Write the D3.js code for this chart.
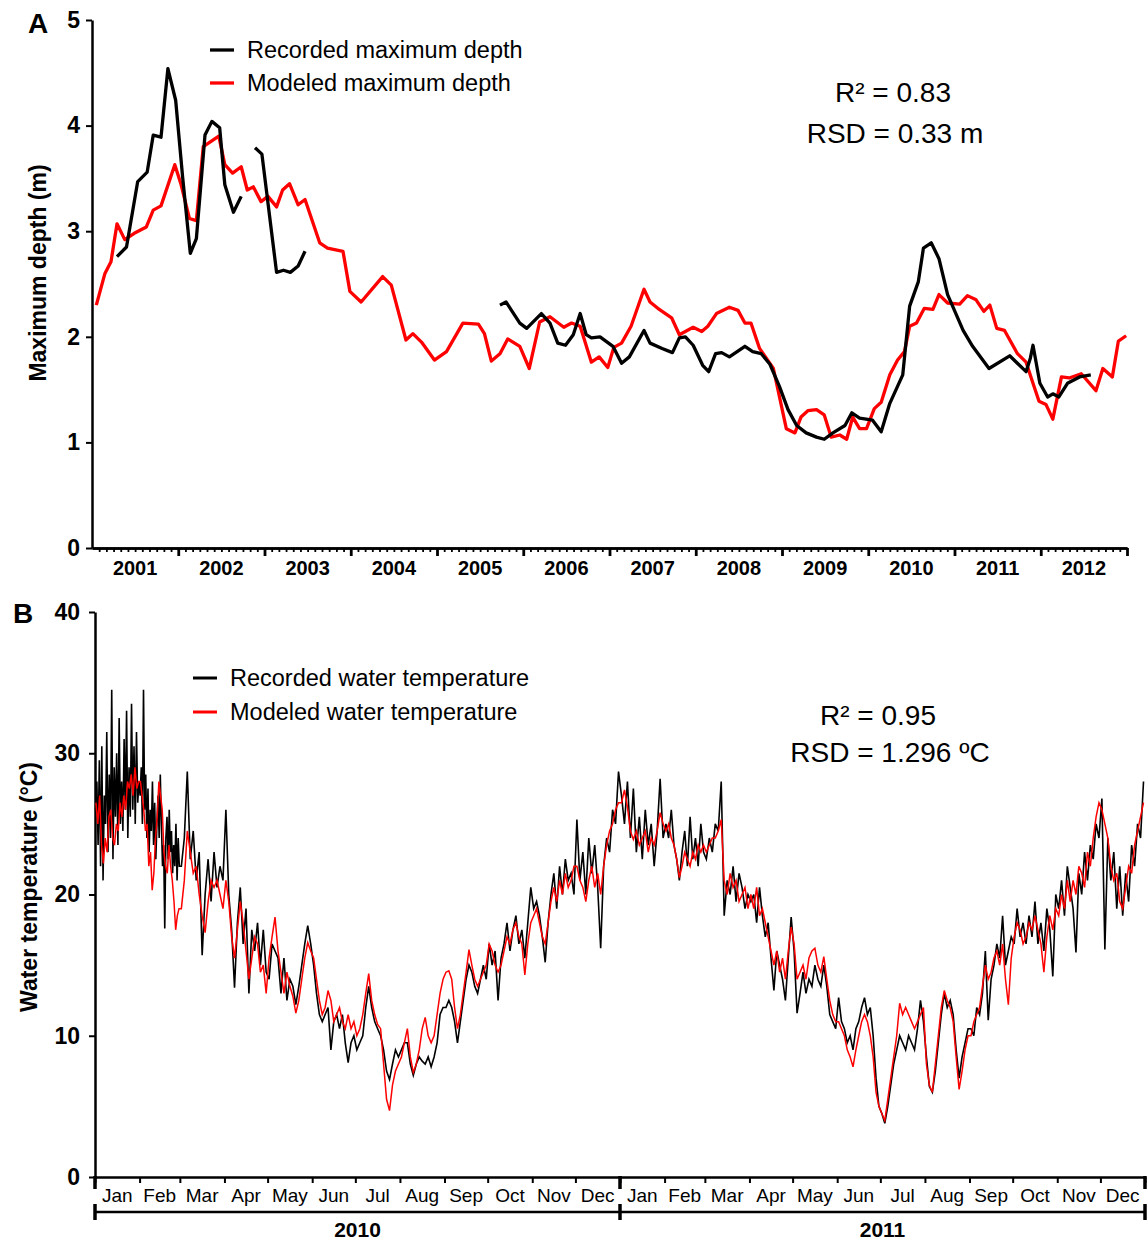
<!DOCTYPE html>
<html><head><meta charset="utf-8">
<script src="https://cdn.jsdelivr.net/npm/d3@7"></script>
<style>body{margin:0;background:#fff} svg{display:block}</style>
</head><body><svg id="c" width="1148" height="1240"></svg>
<script>
// ---------------- Panel A data (decimal year, metres) ----------------
const depthTicks = [0, 1, 2, 3, 4, 5];
const depthYears = [2001,2002,2003,2004,2005,2006,2007,2008,2009,2010,2011,2012];
const modeledDepth = [
 [2001.05,2.30],[2001.15,2.60],[2001.22,2.71],[2001.29,3.07],[2001.38,2.92],[2001.49,2.98],[2001.63,3.04],
 [2001.71,3.20],[2001.80,3.24],[2001.96,3.63],[2002.03,3.45],[2002.13,3.12],[2002.21,3.10],[2002.29,3.80],
 [2002.38,3.85],[2002.47,3.90],[2002.54,3.63],[2002.63,3.55],[2002.73,3.61],[2002.80,3.39],[2002.87,3.42],
 [2002.96,3.28],[2003.04,3.33],[2003.14,3.23],[2003.21,3.39],[2003.29,3.45],[2003.39,3.25],[2003.47,3.30],
 [2003.64,2.89],[2003.73,2.84],[2003.91,2.81],[2003.99,2.43],[2004.12,2.33],[2004.37,2.57],[2004.47,2.49],
 [2004.64,1.97],[2004.72,2.03],[2004.82,1.95],[2004.97,1.78],[2005.11,1.86],[2005.30,2.13],[2005.48,2.12],
 [2005.55,2.03],[2005.63,1.77],[2005.73,1.84],[2005.82,1.98],[2005.96,1.91],[2006.07,1.70],[2006.19,2.14],
 [2006.31,2.19],[2006.47,2.09],[2006.56,2.13],[2006.66,2.10],[2006.79,1.76],[2006.88,1.81],[2006.98,1.71],
 [2007.05,1.90],[2007.14,1.94],[2007.25,2.10],[2007.40,2.45],[2007.47,2.33],[2007.56,2.27],[2007.72,2.18],
 [2007.81,2.02],[2007.97,2.09],[2008.07,2.05],[2008.14,2.10],[2008.24,2.22],[2008.39,2.28],[2008.49,2.25],
 [2008.57,2.13],[2008.64,2.13],[2008.74,1.89],[2008.90,1.70],[2009.05,1.13],[2009.15,1.09],[2009.22,1.24],
 [2009.30,1.30],[2009.40,1.31],[2009.49,1.26],[2009.57,1.05],[2009.67,1.07],[2009.75,1.03],[2009.82,1.24],
 [2009.90,1.13],[2009.98,1.13],[2010.07,1.32],[2010.15,1.38],[2010.25,1.64],[2010.34,1.78],[2010.42,1.86],
 [2010.48,2.10],[2010.56,2.13],[2010.65,2.27],[2010.75,2.26],[2010.82,2.40],[2010.92,2.32],[2011.06,2.31],
 [2011.15,2.39],[2011.25,2.35],[2011.34,2.24],[2011.41,2.30],[2011.49,2.08],[2011.58,2.06],[2011.73,1.84],
 [2011.83,1.76],[2011.91,1.56],[2011.98,1.39],[2012.06,1.36],[2012.14,1.22],[2012.24,1.62],[2012.33,1.61],
 [2012.47,1.65],[2012.64,1.49],[2012.72,1.70],[2012.83,1.62],[2012.90,1.96],[2012.99,2.01]
];
// null marks a gap in the record
const recordedDepth = [
 [2001.29,2.76],[2001.40,2.85],[2001.53,3.47],[2001.64,3.56],[2001.71,3.91],[2001.80,3.89],[2001.88,4.54],
 [2001.97,4.24],[2002.05,3.52],[2002.14,2.79],[2002.21,2.93],[2002.31,3.91],[2002.39,4.04],[2002.48,3.98],
 [2002.54,3.44],[2002.64,3.18],[2002.73,3.33],
 null,
 [2002.89,3.79],[2002.97,3.73],[2003.14,2.61],[2003.22,2.63],[2003.30,2.61],[2003.39,2.67],[2003.47,2.81],
 null,
 [2005.73,2.30],[2005.80,2.33],[2005.96,2.13],[2006.04,2.08],[2006.21,2.22],[2006.31,2.13],[2006.40,1.94],
 [2006.49,1.92],[2006.58,2.02],[2006.66,2.22],[2006.73,2.02],[2006.79,1.99],[2006.89,2.00],[2007.04,1.91],
 [2007.14,1.75],[2007.23,1.81],[2007.40,2.06],[2007.47,1.94],[2007.61,1.89],[2007.73,1.85],[2007.81,1.99],
 [2007.88,2.00],[2007.97,1.92],[2008.08,1.73],[2008.15,1.67],[2008.23,1.84],[2008.30,1.85],[2008.39,1.81],
 [2008.57,1.91],[2008.66,1.86],[2008.76,1.84],[2008.86,1.74],[2008.97,1.53],[2009.07,1.31],[2009.17,1.16],
 [2009.28,1.09],[2009.40,1.05],[2009.49,1.03],[2009.59,1.09],[2009.73,1.16],[2009.81,1.28],[2009.90,1.23],
 [2010.05,1.21],[2010.15,1.10],[2010.25,1.37],[2010.40,1.64],[2010.48,2.29],[2010.58,2.52],[2010.64,2.84],
 [2010.73,2.89],[2010.82,2.74],[2010.92,2.40],[2011.10,2.06],[2011.21,1.91],[2011.40,1.70],[2011.64,1.82],
 [2011.83,1.67],[2011.88,1.80],[2011.91,1.92],[2011.99,1.56],[2012.08,1.43],[2012.14,1.46],[2012.21,1.43],
 [2012.31,1.56],[2012.45,1.62],[2012.58,1.64]
];

// ---------------- Panel B data (°C, values spread evenly within each month) ----------------
const tempTicks = [0, 10, 20, 30, 40];
const monthNames = ["Jan","Feb","Mar","Apr","May","Jun","Jul","Aug","Sep","Oct","Nov","Dec"];
const tempYears = ["2010", "2011"];
const recordedTemp = [
 [26,28,23.5,29.5,22,30.5,21,27,25,31.5,23,28.5,24,34.5,22.5,29,25.5,30,23.5,32.5,25,28,24.5,31,26,33,24,29,25.5,33.5,26,30.5,25,31.5,26.5,28],
 [27,29,25,34.5,26,28.5,24,27.5,23,26,24.5,28,23.5,26.5,22.5,25,27,24,28.5,25,22,23.5,17.6,24,25.5,22.5,26,23,24.5,21.5,23.5,22,25,21,24,22],
 [22,24,28.7,22.5,24.5,21,23,15.7,20,22.5,19.5,23,20.5,22,21],
 [26,20,17.5,13.4,18,20.5,16.5,19,13,17.5,16,18,15,17.5,14.5],
 [14,16.5,16,15.5,13,15.5,12.5,14,13.5,12.2,13.5,15,16.5,17.8,16.5],
 [15,13,11.5,11,11.5,12,9,11,11.5,10.5,11.5,9.5,8.1,9.5,10],
 [9,9.5,10,12,13.5,12,11,10.5,10,9,7.5,6.9,8,9,8.5],
 [9,9.5,9.5,8,7.2,8,8.5,8.2,8,8.5,7.8,8.5,9.5,11.5,12],
 [12,12.5,12,11,9.5,11,12.5,14,15,14.5,13.5,13,14,15,14],
 [16.5,15,16,12.5,15.5,16.5,18,16,17.5,18.5,16.5,17.5,15.5,18,20.5],
 [19,19.5,18.5,17,15.2,18,20,21.5,19,22,20,22.5,21,21.5,20],
 [25.3,21,23,20,24,21.5,23.5,20.5,16.2,22,24,23,26,25,28.7],
 [27,25,28,24,27.5,23,25.5,22.5,26,23.5,25,22,24.5,28.2,24],
 [25,24,26,23.5,22.5,21,23,24.5,22,25.5,22.5,24,22,25,23],
 [22.5,24,23,25,24.5,28,18.5,21,20,22,19.5,21.5,20.5,19,20],
 [19.5,20,18,20.5,18.5,17,18,15.5,13.2,16,15,14,12.5,15.5,18.4],
 [16,11.6,13,14.5,13,14,13.5,15,14,13.5,15,13.5,11.5,11,10.5],
 [12.7,11,10.5,9.5,10,9,10.5,11,12,12.7,11.5,12,10,7,5],
 [4.5,3.8,5,6.5,8,9,10,9.5,9,10,9.5,9,10.5,12.5,11],
 [8.5,6.4,6,7.5,9.5,11.5,13,12,12.5,11.5,9,7,8.5,9.5,10.5],
 [10.5,10,12,11.5,13,16,11.1,14,15,16.5,15.5,18.5,15,16,17],
 [16.5,19,17,18,16.5,18.5,17,19.5,16.5,18,16,19,17.5,14.2,20],
 [19,21,18.5,22,20.5,19,15.9,21.5,20,23,21,23.5,22.5,25,24],
 [26.8,16.1,24,21,23,19,22,18.5,21.5,19.5,23.5,22,25,24,28]
];
const modeledTemp = [
 [26.5,25,27,23.5,22.2,24,23,25.5,26,24,23.5,25,24.5,26.5,25.5,27,26,28,27.5,28.5,27,29,27.5,28],
 [28,27,26,24.5,25,22,23,20.3,21.5,24,25.5,28,27,26,23,22,21.5,23.5,22,21,19.5,17.5,18.5,19],
 [19,21,24.5,23,21.5,22,20,18.5,17.3,19.5,21,20.5,21,20,19],
 [21,19.5,17,15.5,17.5,19.5,18,16,14,15.5,17,16.5,14.5,15,13],
 [15.5,17,18.4,16,14.5,13,14.5,13.5,12.8,11.6,12.5,14,15.5,16.6,16],
 [15.5,14,12.5,11.5,12,13.2,12.5,11,11.5,12,11,10.5,11.5,10.5,11],
 [10,10.5,11.5,13,14.4,12.5,11.5,10.8,10.5,8,5.5,4.7,6.5,7.5,8],
 [8.5,9.5,10.5,8.5,7.4,8,9,10.5,11.3,10,9.5,10,11.5,13,14],
 [14.5,14.6,14,12,10.5,11.5,13,14.5,16.1,15,14,13.5,14,14.5,15],
 [16.5,16,15,14.5,15,16,17,16.5,17.5,18,17,16.5,14.3,16.5,18],
 [18.5,19,18,17,16.5,18,19.5,20.5,19.5,21,20,21.5,20.5,21,22],
 [22,21,20.5,19.5,21,22,20.5,21.5,20,22,23.5,24.5,25,26,26.5],
 [26.5,27.4,26.2,24.5,23.9,24.5,23.5,24,24.5,23,24,23.5,24.5,25.8,25],
 [24.5,25,24,23.5,22.5,21.2,22,23,22.5,22,23,22.5,23.5,23,23.5],
 [23,23.5,24,24,24.5,25.3,21,20,21.5,20.5,21,19.5,20,20.5,19],
 [20,19,20.5,18.5,19,18,17,16,15,16,14.5,15.5,14,16,17.7],
 [16.5,14,14.5,15,14,15.5,16,16.2,15,14.5,15.6,14,12.5,11.5,11],
 [11,10.5,10,9,8.5,7.8,9,10,11,11.5,11,10,8.5,6,5],
 [4.5,4,5.5,7,8.5,10,12.3,11.5,12,11.5,11,10.5,11,11.5,12],
 [8,6.5,6,8,10,12,13.2,12.5,12,11,8.5,6.2,7.5,9,10],
 [10,11,11.5,12,13.5,15,14,14.5,15.5,16,15,16.5,14,12.2,15.5],
 [17,18,17.5,16.5,17,18,17.5,18.5,17.5,16.5,14.5,17,18.5,17.5,19],
 [18.5,20,19,21,19.5,21,20,22,21.5,20.5,23,22,24,25.5,26.5],
 [26,25,24,22,21,21.5,19.5,19,20.5,22,21.5,23.5,24.5,25.5,26.5]
];

// ---------------- drawing ----------------
const FONT = '"Liberation Sans", Arial, Helvetica, sans-serif';
const svg = d3.select("#c");

function styleAxis(g, size, weight) {
  g.select(".domain").attr("stroke", "#000").attr("stroke-width", 2.5);
  g.selectAll(".tick line").attr("stroke", "#000").attr("stroke-width", 2);
  g.selectAll("text").attr("font-family", FONT).attr("font-size", size)
    .attr("font-weight", weight).attr("fill", "#000");
}

// ===== Panel A =====
const xA = d3.scaleLinear().domain([2001, 2013]).range([92, 1127]);
const yA = d3.scaleLinear().domain([0, 5]).range([548, 20]);

svg.append("g").attr("transform", "translate(92,0)")
  .call(d3.axisLeft(yA).tickValues(depthTicks).tickSize(6).tickSizeOuter(0).tickPadding(6).tickFormat(d3.format("d")))
  .call(g => styleAxis(g, 23, "bold"));

const minorA = [];
depthYears.forEach(y => { for (let m = 1; m < 12; m++) minorA.push(y + m / 12); });
svg.append("g").attr("transform", "translate(0,548)")
  .call(d3.axisBottom(xA).tickValues(minorA).tickSize(4).tickSizeOuter(0).tickFormat(""))
  .call(g => styleAxis(g, 10, "normal"))
  .call(g => g.selectAll(".tick line").attr("stroke-width", 1.8));
svg.append("g").attr("transform", "translate(0,548)")
  .call(d3.axisBottom(xA).tickValues(depthYears.slice(1).concat([2013])).tickSize(8).tickSizeOuter(0).tickFormat(""))
  .call(g => styleAxis(g, 10, "normal"))
  .call(g => g.selectAll(".tick line").attr("stroke-width", 2.8));

svg.append("g").selectAll("text").data(depthYears).join("text")
  .attr("x", d => xA(d + 0.5)).attr("y", 575)
  .attr("text-anchor", "middle").attr("font-family", FONT).attr("font-size", 20)
  .attr("font-weight", "bold").text(d => d);

const lineA = d3.line().defined(d => d !== null).x(d => xA(d[0])).y(d => yA(d[1]));
svg.append("path").datum(modeledDepth).attr("d", lineA)
  .attr("fill", "none").attr("stroke", "#ff0000").attr("stroke-width", 3.3).attr("stroke-linejoin", "round");
svg.append("path").datum(recordedDepth).attr("d", lineA)
  .attr("fill", "none").attr("stroke", "#000").attr("stroke-width", 3.3).attr("stroke-linejoin", "round");

// legend A
[["Recorded maximum depth", "#000", 50], ["Modeled maximum depth", "#ff0000", 83]].forEach(([t, c, y]) => {
  svg.append("line").attr("x1", 210).attr("x2", 234).attr("y1", y).attr("y2", y)
    .attr("stroke", c).attr("stroke-width", 3.3);
  svg.append("text").attr("x", 247).attr("y", y + 8).attr("font-family", FONT)
    .attr("font-size", 23.5).text(t);
});
svg.append("text").attr("x", 893).attr("y", 102).attr("text-anchor", "middle")
  .attr("font-family", FONT).attr("font-size", 28).text("R² = 0.83");
svg.append("text").attr("x", 895).attr("y", 143).attr("text-anchor", "middle")
  .attr("font-family", FONT).attr("font-size", 28).text("RSD = 0.33 m");
svg.append("text").attr("x", 28).attr("y", 33).attr("font-family", FONT)
  .attr("font-size", 28).attr("font-weight", "bold").text("A");
svg.append("text").attr("transform", "translate(46,273) rotate(-90)").attr("text-anchor", "middle")
  .attr("font-family", FONT).attr("font-size", 23).attr("font-weight", "bold").text("Maximum depth (m)");

// ===== Panel B =====
const t0 = new Date(2010, 0, 1), t1 = new Date(2012, 0, 1);
const xB = d3.scaleTime().domain([t0, t1]).range([95, 1145]);
const yB = d3.scaleLinear().domain([0, 40]).range([1177, 612]);

svg.append("g").attr("transform", "translate(95,0)")
  .call(d3.axisLeft(yB).tickValues(tempTicks).tickSize(6).tickSizeOuter(0).tickPadding(9))
  .call(g => styleAxis(g, 23, "bold"));

const monthStarts = d3.range(25).map(i => new Date(2010, i, 1));
svg.append("g").attr("transform", "translate(0,1177)")
  .call(d3.axisBottom(xB).tickValues(monthStarts).tickSize(6).tickSizeOuter(0).tickFormat(""))
  .call(g => styleAxis(g, 10, "normal"));
const yearStarts = [new Date(2010, 0, 1), new Date(2011, 0, 1), new Date(2012, 0, 1)];
svg.append("g").selectAll("line").data(yearStarts).join("line")
  .attr("x1", d => xB(d)).attr("x2", d => xB(d)).attr("y1", 1176).attr("y2", 1189)
  .attr("stroke", "#000").attr("stroke-width", 3.5);
// month labels
svg.append("g").selectAll("text").data(d3.range(24)).join("text")
  .attr("x", i => (xB(monthStarts[i]) + xB(monthStarts[i + 1])) / 2).attr("y", 1202)
  .attr("text-anchor", "middle").attr("font-family", FONT).attr("font-size", 19)
  .text(i => monthNames[i % 12]);
// year bracket
svg.append("line").attr("x1", xB(t0)).attr("x2", xB(t1)).attr("y1", 1212).attr("y2", 1212)
  .attr("stroke", "#000").attr("stroke-width", 2.5);
svg.append("g").selectAll("line").data(yearStarts).join("line")
  .attr("x1", d => xB(d)).attr("x2", d => xB(d)).attr("y1", 1204).attr("y2", 1220)
  .attr("stroke", "#000").attr("stroke-width", 3.5);
svg.append("g").selectAll("text").data(tempYears).join("text")
  .attr("x", (d, i) => (xB(yearStarts[i]) + xB(yearStarts[i + 1])) / 2).attr("y", 1237)
  .attr("text-anchor", "middle").attr("font-family", FONT).attr("font-size", 21)
  .attr("font-weight", "bold").text(d => d);

// place values evenly inside their month
function spread(months) {
  const pts = [];
  months.forEach((vals, m) => {
    const a = new Date(2010, m, 1).getTime(), b = new Date(2010, m + 1, 1).getTime();
    vals.forEach((v, k) => pts.push([new Date(a + (b - a) * (k + 0.5) / vals.length), v]));
  });
  return pts;
}
const lineB = d3.line().x(d => xB(d[0])).y(d => yB(d[1]));
svg.append("path").datum(spread(recordedTemp)).attr("d", lineB)
  .attr("fill", "none").attr("stroke", "#000").attr("stroke-width", 1.6);
svg.append("path").datum(spread(modeledTemp)).attr("d", lineB)
  .attr("fill", "none").attr("stroke", "#ff0000").attr("stroke-width", 1.5);

// legend B
[["Recorded water temperature", "#000", 678], ["Modeled water temperature", "#ff0000", 712]].forEach(([t, c, y]) => {
  svg.append("line").attr("x1", 193).attr("x2", 217).attr("y1", y).attr("y2", y)
    .attr("stroke", c).attr("stroke-width", 3);
  svg.append("text").attr("x", 230).attr("y", y + 8).attr("font-family", FONT)
    .attr("font-size", 23.5).text(t);
});
svg.append("text").attr("x", 878).attr("y", 725).attr("text-anchor", "middle")
  .attr("font-family", FONT).attr("font-size", 28).text("R² = 0.95");
svg.append("text").attr("x", 890).attr("y", 762).attr("text-anchor", "middle")
  .attr("font-family", FONT).attr("font-size", 28).text("RSD = 1.296 ºC");
svg.append("text").attr("x", 13).attr("y", 623).attr("font-family", FONT)
  .attr("font-size", 28).attr("font-weight", "bold").text("B");
svg.append("text").attr("transform", "translate(37,887) rotate(-90)").attr("text-anchor", "middle")
  .attr("font-family", FONT).attr("font-size", 23).attr("font-weight", "bold").text("Water temperature (°C)");
</script></body></html>
